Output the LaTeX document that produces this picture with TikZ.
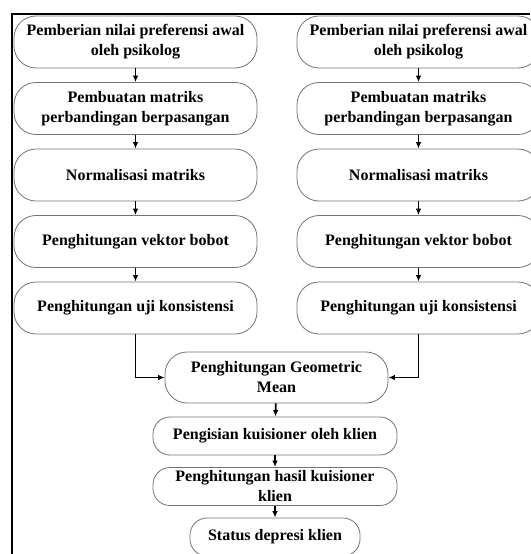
\documentclass[tikz,border=0pt]{standalone}
\usepackage{fontspec}
\setmainfont{Liberation Serif}
\usetikzlibrary{arrows.meta}

\begin{document}
\begin{tikzpicture}[x=1pt,y=1pt,
    tahap/.style={rectangle,draw=black!55,line width=0.8pt,rounded corners=22pt,
        minimum width=243pt,minimum height=52pt,align=center,
        font=\fontsize{16}{20}\selectfont\bfseries},
    tahapkecil/.style={tahap,rounded corners=17pt,minimum height=38pt},
    panah/.style={-{Latex[length=6.5pt,width=5.5pt]},line width=1.7pt}]
        \useasboundingbox (0,0) rectangle (530,-554);
        \draw[line width=2.6pt] (12,-554) -- (12,-14) -- (530,-14);
        % kolom kiri
        \node at (135.5,-42)[tahap] (nilaiA) {Pemberian nilai preferensi awal\\oleh psikolog};
        \node at (135.5,-108.5)[tahap] (matriksA) {Pembuatan matriks\\perbandingan berpasangan};
        \node at (135.5,-175)[tahap] (normA) {Normalisasi matriks};
        \node at (135.5,-241.5)[tahap] (vektorA) {Penghitungan vektor bobot};
        \node at (135.5,-308)[tahap] (ujiA) {Penghitungan uji konsistensi};
        % kolom kanan
        \node at (418.5,-42)[tahap] (nilaiB) {Pemberian nilai preferensi awal\\oleh psikolog};
        \node at (418.5,-108.5)[tahap] (matriksB) {Pembuatan matriks\\perbandingan berpasangan};
        \node at (418.5,-175)[tahap] (normB) {Normalisasi matriks};
        \node at (418.5,-241.5)[tahap] (vektorB) {Penghitungan vektor bobot};
        \node at (418.5,-308)[tahap] (ujiB) {Penghitungan uji konsistensi};
        % bagian bawah
        \node at (276.5,-377.5)[tahap,minimum width=223pt,minimum height=51pt] (geo) {Penghitungan Geometric\\Mean};
        \node at (275,-436)[tahapkecil,minimum width=244pt] (isi) {Pengisian kuisioner oleh klien};
        \node at (275,-486.5)[tahapkecil,minimum width=244pt] (hasil) {Penghitungan hasil kuisioner\\klien};
        \node at (275,-537)[tahapkecil,minimum width=170pt] (status) {Status depresi klien};
        \draw [panah] (nilaiA) to (matriksA);
        \draw [panah] (matriksA) to (normA);
        \draw [panah] (normA) to (vektorA);
        \draw [panah] (vektorA) to (ujiA);
        \draw [panah] (nilaiB) to (matriksB);
        \draw [panah] (matriksB) to (normB);
        \draw [panah] (normB) to (vektorB);
        \draw [panah] (vektorB) to (ujiB);
        \draw [panah] (ujiA.south) |- (geo.west);
        \draw [panah] (ujiB.south) |- (geo.east);
        \draw [panah] (geo) to (isi);
        \draw [panah] (isi) to (hasil);
        \draw [panah] (hasil) to (status);
    \end{tikzpicture}
\end{document}
